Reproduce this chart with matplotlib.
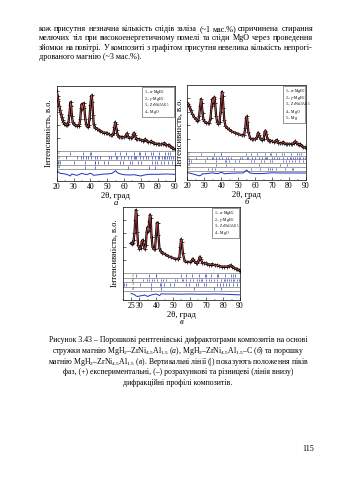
import matplotlib
matplotlib.use('Agg')
import matplotlib.pyplot as plt
from matplotlib.patches import Rectangle

plt.rcParams['font.family'] = ['Liberation Serif', 'DejaVu Serif']
plt.rcParams['mathtext.fontset'] = 'custom'
plt.rcParams['mathtext.rm'] = 'Liberation Serif'
plt.rcParams['mathtext.it'] = 'Liberation Serif:italic'

# ---- page text ----
body_lines = [
    "кож присутня незначна кількість слідів заліза (~1 мас.%) спричинена стирання",
    "мелючих тіл при високоенергетичному помелі та сліди MgO через проведення",
    "зйомки на повітрі. У композиті з графітом присутня невелика кількість непрогі-",
    "дрованого магнію (~3 мас.%).",
]
caption_lines = [
    "Рисунок 3.43 – Порошкові рентгенівські дифрактограми композитів на основі",
    r"стружки магнію MgH$_\mathregular{2}$–ZrNi$_\mathregular{4.5}$Al$_\mathregular{1.5}$ ($\it{а}$), "
    r"MgH$_\mathregular{2}$–ZrNi$_\mathregular{4.5}$Al$_\mathregular{1.5}$–C ($\it{б}$) та порошку",
    r"магнію MgH$_\mathregular{2}$–ZrNi$_\mathregular{4.5}$Al$_\mathregular{1.5}$ ($\it{в}$). "
    "Вертикальні лінії (|) показують положення піків",
    "фаз, (+) експериментальні, (–) розрахункові та різницеві (лінія внизу)",
    "дифракційні профілі композитів.",
]
page_number = "115"

# ---- panel а: MgH2-ZrNi4.5Al1.5 (стружка) ----
theta_a = [20.0, 20.5, 21.0, 21.5, 22.0, 22.5, 23.0, 23.5, 24.0, 24.5, 25.0, 25.5, 26.0, 26.5,
           27.0, 27.5, 28.0, 28.3, 28.6, 29.0, 29.5, 30.0, 31.0, 32.0, 33.0, 33.5, 34.0, 34.5,
           34.9, 35.3, 35.6, 36.0, 36.4, 37.0, 37.5, 38.0, 38.5, 39.0, 39.5, 40.0, 40.5, 40.8,
           41.2, 41.6, 42.0, 42.5, 43.0, 44.0, 45.0, 46.0, 47.0, 48.0, 49.0, 50.0, 51.0, 52.0,
           53.0, 53.8, 54.3, 54.7, 55.1, 55.6, 56.2, 57.0, 58.0, 59.0, 60.0, 61.0, 61.7, 62.3,
           63.0, 64.0, 65.0, 65.6, 66.0, 66.5, 67.2, 68.0, 69.0, 70.0, 71.0, 72.0, 72.7, 73.5,
           74.5, 75.5, 76.3, 77.0, 78.0, 79.0, 80.0, 81.0, 82.0, 83.0, 83.7, 84.5, 85.0, 86.0,
           86.7, 87.5, 88.5, 89.3, 90.0]
int_a = [92, 84, 77, 69, 63, 57, 52, 47, 44, 42, 41, 40, 40, 41,
         44, 55, 70, 75, 69, 54, 44, 41, 40, 38, 39, 41, 49, 66,
         72, 64, 69, 73, 66, 49, 41, 38, 37, 40, 50, 70, 84, 85,
         75, 55, 41, 37, 35, 34, 32, 31, 29, 28, 28, 27, 26, 24,
         24, 28, 37, 44, 41, 32, 24, 21, 21, 21, 21, 23, 27, 23,
         20, 20, 21, 26, 28, 24, 19, 18, 18, 17, 16, 17, 18, 15,
         14, 14, 15, 13, 12, 11, 11, 10, 10, 11, 12, 11, 9, 9,
         9, 7, 5, 4, 3]
diff_th_a = [20, 22, 25, 27, 28, 29, 30, 32, 34, 35, 36, 38, 40, 41, 42, 45, 48, 50, 53, 55,
             56, 58, 60, 63, 66, 70, 72, 75, 80, 85, 90]
diff_a = [3.3, 0.7, 0, -1, -2, 0, -0.5, -1.3, 0, 0.7, 0, -0.5, 0.7, 0, -1.3, -0.7, 0, 0, 0.7, 3.3,
          1.3, 0, -0.7, -1, -0.7, -2, -1, -0.3, -0.3, 0, -0.3]

# ---- panel б: MgH2-ZrNi4.5Al1.5-C ----
theta_b = [20.0, 20.5, 21.0, 22.0, 23.0, 24.0, 25.0, 26.0, 26.5, 27.0, 27.6, 28.1, 28.5, 29.0,
           29.5, 30.0, 31.0, 32.0, 33.0, 33.7, 34.3, 34.8, 35.2, 35.6, 36.0, 36.4, 37.0, 37.6,
           38.3, 39.0, 39.6, 40.1, 40.5, 40.9, 41.3, 41.8, 42.5, 43.5, 44.5, 46.0, 48.0, 50.0,
           52.0, 53.5, 54.2, 54.7, 55.1, 55.5, 56.0, 57.0, 58.0, 59.0, 60.0, 61.0, 61.8, 62.4,
           63.2, 64.0, 65.0, 65.7, 66.1, 66.6, 67.3, 68.2, 69.0, 70.0, 71.0, 72.0, 72.8, 73.6,
           74.6, 75.6, 76.4, 77.2, 78.0, 79.0, 80.0, 81.0, 82.0, 82.8, 83.6, 84.3, 85.0, 85.8,
           86.6, 87.5, 88.5, 89.3, 90.0]
int_b = [73, 72, 69, 63, 57, 52, 49, 47, 48, 54, 69, 79, 73, 58,
         49, 46, 44, 43, 44, 51, 69, 79, 73, 79, 82, 73, 54, 45,
         42, 45, 60, 81, 90, 84, 66, 48, 39, 36, 34, 31, 29, 27,
         25, 25, 36, 51, 53, 45, 30, 21, 19, 19, 19, 22, 29, 25,
         19, 18, 20, 30, 32, 27, 19, 16, 17, 16, 15, 16, 18, 14,
         13, 13, 15, 13, 12, 12, 12, 12, 12, 13, 16, 14, 12, 11,
         12, 9, 7, 7, 6]
diff_th_b = [20, 22, 25, 27, 28, 29, 30, 33, 35, 36, 38, 40, 41, 42, 45, 50, 53, 55, 56, 57,
             60, 63, 66, 70, 75, 80, 85, 90]
diff_b = [0.5, 0, -1.5, -2.5, -2, -0.5, -0.5, 0, 0.5, 0, -0.3, 1, 0.3, -0.5, 0, 0.3, 0.3, 3.3, 1.5, 0.3,
          -0.3, -0.3, 0, 0.5, 0.3, 0.3, 0.3, 0.3]

# ---- panel в: MgH2-ZrNi4.5Al1.5 (порошок) ----
theta_c = [25.0, 25.5, 26.0, 26.5, 27.0, 27.5, 27.9, 28.3, 28.7, 29.2, 30.0, 30.8, 31.4, 31.9,
           32.5, 33.2, 33.8, 34.3, 34.8, 35.3, 35.8, 36.3, 36.7, 37.2, 37.8, 38.5, 39.3, 39.9,
           40.4, 40.8, 41.3, 41.9, 42.6, 43.5, 45.0, 47.0, 49.0, 51.0, 53.0, 53.8, 54.4, 54.8,
           55.3, 55.9, 57.0, 58.5, 60.0, 61.0, 61.8, 62.5, 63.5, 64.5, 65.4, 66.0, 66.6, 67.5,
           68.5, 69.5, 70.5, 71.5, 72.5, 73.5, 75.0, 76.3, 77.5, 79.0, 80.5, 82.0, 83.5, 84.5,
           85.5, 86.5, 87.5, 88.5, 89.3, 90.0]
int_c = [45, 44, 46, 50, 60, 80, 95, 88, 62, 42, 37, 38, 48, 50,
         42, 36, 42, 62, 69, 63, 78, 88, 83, 55, 40, 36, 37, 58,
         76, 75, 58, 38, 33, 31, 29, 26, 24, 22, 21, 24, 40, 51,
         47, 30, 18, 17, 17, 18, 22, 19, 16, 15, 20, 25, 21, 16,
         15, 15, 14, 13, 13, 14, 12, 12, 11, 10, 10, 10, 11, 12,
         10, 8, 7, 6, 5, 4]
diff_th_c = [25, 27, 28, 29, 30, 32, 33, 35, 36, 38, 40, 42, 43, 45, 50, 55, 60, 65, 70, 75,
             80, 85, 88, 90]
diff_c = [1, 0, -1.5, -2, -1.5, -1, -0.5, -2, -1, 0, 0.5, -1, 0.7, 0.5, 0.5, 0.3, 0.5, 0.3, 0.3, 0.5,
          0.3, 0, -0.3, -0.3]

# ---- phase peak positions (2θ) ----
alpha_mgh2 = [27.9, 35.7, 39.8, 40.1, 54.6, 57.8, 61.3, 65.8, 68.9, 69.5, 72.5, 76.0, 77.0,
              81.0, 84.5, 86.0, 87.1]
gamma_mgh2 = [25.3, 31.9, 34.6, 35.4, 37.2, 38.4, 40.6, 43.0, 43.9, 46.0, 51.2, 52.5, 55.1,
              56.0, 58.0, 60.2, 62.2, 64.3, 65.7, 66.6, 67.2, 69.7, 71.3, 72.9, 74.3, 76.5,
              78.6, 80.3, 81.0, 82.5, 83.6, 84.6, 85.8, 86.5, 88.2, 89.3]
zrni = [20.9, 21.9, 30.4, 36.7, 42.5, 42.9, 44.7, 48.3, 50.6, 57.7, 59.3, 63.7, 65.0, 68.6,
        69.9, 76.4, 78.2, 79.8, 81.8, 83.5, 86.0, 88.5]
mgo = [36.9, 42.9, 62.3, 74.7, 78.6]
mg = [32.2, 34.4, 36.6, 47.8, 57.4, 63.1, 67.3, 68.6, 70.0, 72.5, 77.8, 81.5, 82.4]

leg4 = ["α-MgH$_\\mathregular{2}$", "γ-MgH$_\\mathregular{2}$",
        "ZrNi$_\\mathregular{4.5}$Al$_\\mathregular{1.5}$", "MgO"]
leg5 = leg4 + ["Mg"]

W, H = 339, 480
fig = plt.figure(figsize=(W / 100, H / 100), dpi=100)


def panel(box, xlim, xt, theta, inten, dth, dval, phases, legend, leg_left, lh, sep, row_h,
          diff_base, tag):
    # box in page pixels: left, right, top, bottom
    l, r, t, b = box
    ax = fig.add_axes([l / W, 1 - b / H, (r - l) / W, (b - t) / H])
    ax.set_xlim(*xlim)
    ax.set_ylim(b, t)  # data y == page pixel row
    kx = (xlim[1] - xlim[0]) / (r - l)

    def py(v):
        return sep - v * (sep - t) / 100.0

    ys = [py(v) for v in inten]
    ax.plot(theta, ys, color='black', lw=1.6, marker='+', ms=2.5, mew=0.5, zorder=2)
    ax.plot(theta, ys, color='#e05050', lw=0.5, zorder=3)

    ax.axhline(sep, color='#555555', lw=0.4)
    for k, ph in enumerate(phases):
        y0 = sep + k * row_h
        ax.axhline(y0 + row_h, color='#555555', lw=0.4)
        ax.vlines(ph, y0 + 0.8, y0 + row_h - 0.8, color='#3040c0', lw=0.5)
        ax.text(xlim[0] + 0.6, y0 + row_h / 2, str(k + 1), fontsize=2.8, va='center',
                color='#333333', style='italic')

    ax.plot(dth, [diff_base - d for d in dval], color='#2030c0', lw=0.7)

    ax.set_xticks(xt)
    ax.set_xticks(range(20, 91, 5), minor=True)
    ax.set_yticks([sep - (sep - t) * f for f in (0.2, 0.4, 0.6, 0.8)])
    ax.set_yticklabels([])
    ax.tick_params(direction='in', length=2, width=0.4, labelsize=5.6, pad=1.5)
    ax.tick_params(which='minor', direction='in', length=1, width=0.3)
    for s in ax.spines.values():
        s.set_linewidth(0.5)
    ax.set_xlabel("2θ, град", fontsize=6.2, labelpad=1)
    ax.set_ylabel("Інтенсивність, в.о.", fontsize=6.2, labelpad=1)

    # legend box in the upper right corner
    n = len(legend)
    ax.add_patch(Rectangle((xlim[0] + (leg_left - l) * kx, t + 1.2),
                           (r - 1 - leg_left) * kx, n * lh + 3,
                           fc='white', ec='#444444', lw=0.4, zorder=5))
    for i, s in enumerate(legend):
        ax.text(xlim[0] + (leg_left + 2 - l) * kx, t + 2.7 + lh * (i + 0.5),
                "$\\it{%d}$ – %s" % (i + 1, s), fontsize=2.8, va='center', zorder=6)

    fig.text((l + r) / 2 / W, 1 - (b + 24) / H, tag, ha='center', fontsize=6.2, style='italic')
    return ax


panel((56.7, 174.5, 85.7, 180.7), (20, 90), range(20, 91, 10), theta_a, int_a,
      diff_th_a, diff_a, [alpha_mgh2, gamma_mgh2, zrni, mgo], leg4, 141.7, 6.8, 151, 4.6, 174,
      "а")
panel((187.3, 306, 85, 180), (20, 90), range(20, 91, 10), theta_b, int_b,
      diff_th_b, diff_b, [alpha_mgh2, gamma_mgh2, zrni, mgo, mg], leg5, 283.3, 6.8, 152, 3.7,
      173.3, "б")
panel((122.7, 240, 206.7, 300), (25, 90), [25, 30, 40, 50, 60, 70, 80, 90], theta_c, int_c,
      diff_th_c, diff_c, [alpha_mgh2, gamma_mgh2, zrni, mgo], leg4, 210, 6.8, 273.3, 4.4, 294.5,
      "в")

# justified body text
rend = fig.canvas.get_renderer()
x0, x1 = 39, 313
for i, line in enumerate(body_lines):
    y = 1 - (31 + i * 9.4) / H
    if i == len(body_lines) - 1:
        fig.text(x0 / W, y, line, fontsize=5.9)
        continue
    words = line.split(' ')
    ts = [fig.text(0, y, w, fontsize=5.9) for w in words]
    ws = [t.get_window_extent(rend).width for t in ts]
    gap = (x1 - x0 - sum(ws)) / (len(words) - 1)
    pos = x0
    for t, w in zip(ts, ws):
        t.set_x(pos / W)
        pos += w + gap

for i, line in enumerate(caption_lines):
    fig.text(178 / W, 1 - (342 + i * 10.8) / H, line, fontsize=5.6, ha='center')

fig.text(308 / W, 1 - 451 / H, page_number, fontsize=5.9, ha='center')

fig.savefig('out.png', dpi=100, facecolor='white')
